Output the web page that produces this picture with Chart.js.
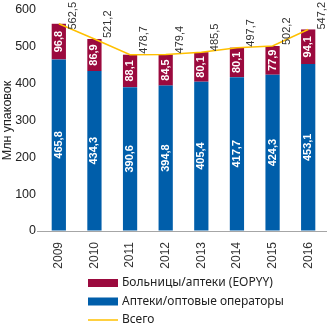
<!DOCTYPE html>
<html>
<head>
<meta charset="utf-8">
<script src="https://cdn.jsdelivr.net/npm/chart.js@4/dist/chart.umd.min.js"></script>
<style>
  html, body { margin: 0; padding: 0; background: #fff; }
  #wrap { width: 331px; height: 331px; position: relative; }
</style>
</head>
<body>
<div id="wrap"><canvas id="packs"></canvas></div>
<script>
(function () {
    "use strict";

    var years = ["2009", "2010", "2011", "2012", "2013", "2014", "2015", "2016"];
    var hospitals = [96.8, 86.9, 88.1, 84.5, 80.1, 80.1, 77.9, 94.1];
    var pharmacies = [465.8, 434.3, 390.6, 394.8, 405.4, 417.7, 424.3, 453.1];
    var totals = [562.5, 521.2, 478.7, 479.4, 485.5, 497.7, 502.2, 547.2];

    var BLUE = "#005eaa";
    var RED = "#9b0a3e";
    var YELLOW = "#ffc000";

    function fmt(v) {
        return v.toFixed(1).replace(".", ",");
    }

    // rotated value labels: white inside the bars, dark above the total line
    var valueLabels = {
        id: "valueLabels",
        afterDatasetsDraw: function (chart) {
            var ctx = chart.ctx;
            chart.data.datasets.forEach(function (ds, i) {
                var meta = chart.getDatasetMeta(i);
                meta.data.forEach(function (el, j) {
                    var v = ds.data[j];
                    ctx.save();
                    if (ds.type === "line") {
                        ctx.font = "11px 'Liberation Sans', Arial, sans-serif";
                        ctx.fillStyle = "#333";
                        var w = ctx.measureText(fmt(v)).width;
                        var by = Math.max(el.y - 1, w + 2);
                        ctx.translate(el.x + 14, by);
                        ctx.rotate(-Math.PI / 2);
                        ctx.textAlign = "left";
                        ctx.textBaseline = "middle";
                        ctx.fillText(fmt(v), 0, 0);
                    } else {
                        ctx.font = "bold 11px 'Liberation Sans', Arial, sans-serif";
                        ctx.fillStyle = "#fff";
                        ctx.translate(el.x, (el.y + el.base) / 2);
                        ctx.rotate(-Math.PI / 2);
                        ctx.textAlign = "center";
                        ctx.textBaseline = "middle";
                        ctx.fillText(fmt(v), 0, 0);
                    }
                    ctx.restore();
                });
            });
        }
    };

    // vertical legend under the x axis: hospitals, pharmacies, total
    var sideLegend = {
        id: "sideLegend",
        afterDraw: function (chart) {
            var ctx = chart.ctx;
            var order = [1, 0, 2];
            var x = 88;
            var y = 283;
            ctx.save();
            ctx.font = "12px 'Noto Sans', sans-serif";
            ctx.textBaseline = "middle";
            order.forEach(function (i) {
                var ds = chart.data.datasets[i];
                if (ds.type === "line") {
                    ctx.strokeStyle = ds.borderColor;
                    ctx.lineWidth = 1.5;
                    ctx.beginPath();
                    ctx.moveTo(x, y);
                    ctx.lineTo(x + 30, y);
                    ctx.stroke();
                } else {
                    ctx.fillStyle = ds.backgroundColor;
                    ctx.fillRect(x, y - 4, 30, 8);
                }
                ctx.fillStyle = "#222";
                ctx.fillText(ds.label, x + 34, y);
                y += 18.5;
            });
            ctx.restore();
        }
    };

    new Chart(document.getElementById("packs"), {
        data: {
            labels: years,
            datasets: [
                {
                    type: "bar",
                    label: "Аптеки/оптовые операторы",
                    data: pharmacies,
                    backgroundColor: BLUE,
                    stack: "bars",
                    order: 1
                },
                {
                    type: "bar",
                    label: "Больницы/аптеки (EOPYY)",
                    data: hospitals,
                    backgroundColor: RED,
                    stack: "bars",
                    order: 2
                },
                {
                    type: "line",
                    label: "Всего",
                    data: totals,
                    borderColor: YELLOW,
                    borderWidth: 1.5,
                    pointRadius: 0,
                    tension: 0,
                    stack: "total",
                    order: 0
                }
            ]
        },
        options: {
            responsive: true,
            maintainAspectRatio: false,
            animation: false,
            layout: {
                padding: { top: 10, right: 5, bottom: 62, left: 0 }
            },
            datasets: {
                bar: { categoryPercentage: 1, barPercentage: 0.4 }
            },
            plugins: {
                legend: { display: false },
                tooltip: { enabled: false }
            },
            scales: {
                x: {
                    stacked: true,
                    grid: { display: false },
                    border: { display: true, color: "#a6a6a6" },
                    ticks: {
                        minRotation: 90,
                        maxRotation: 90,
                        color: "#333",
                        font: { family: "'Liberation Sans', Arial, sans-serif", size: 12 }
                    },
                    afterFit: function (scale) { scale.height = 38; }
                },
                y: {
                    stacked: true,
                    min: 0,
                    max: 600,
                    border: { display: false },
                    grid: {
                        drawOnChartArea: false,
                        tickLength: 4,
                        color: function (c) {
                            return c.tick && c.tick.value === 0 ? "#a6a6a6" : "rgba(0,0,0,0)";
                        }
                    },
                    ticks: {
                        stepSize: 100,
                        padding: 1,
                        color: "#222",
                        font: { family: "'Liberation Sans', Arial, sans-serif", size: 12.5 }
                    },
                    title: {
                        display: true,
                        text: "Млн упаковок",
                        color: "#222",
                        padding: { top: 0, bottom: 2 },
                        font: { family: "'Liberation Sans', Arial, sans-serif", size: 12.5 }
                    },
                    afterFit: function (scale) { scale.width = 41; }
                }
            }
        },
        plugins: [valueLabels, sideLegend]
    });
})();
</script>
</body>
</html>
